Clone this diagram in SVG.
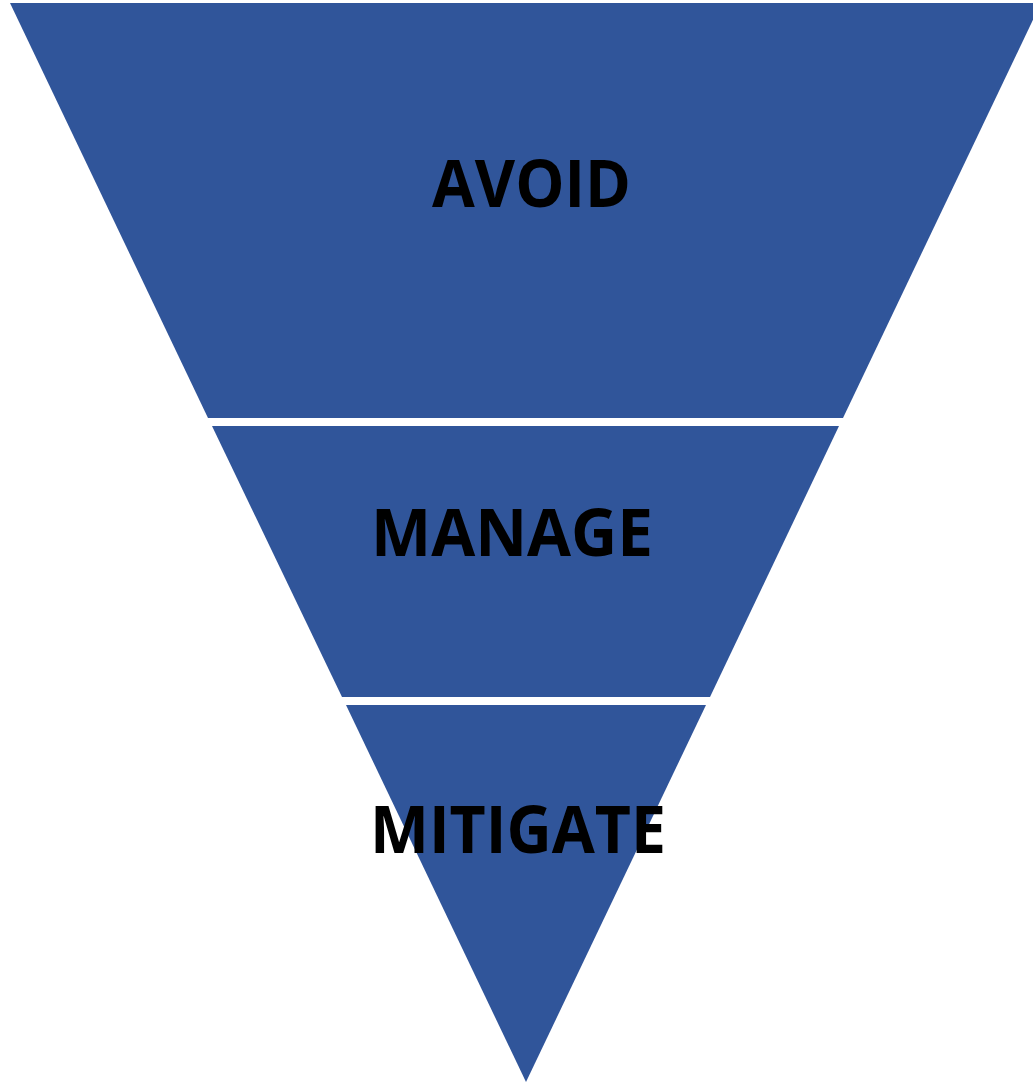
<svg xmlns="http://www.w3.org/2000/svg" width="1033" height="1084" viewBox="0 0 1033 1084">
<style>
.band{fill:#30559A;}
.lbl{font-family:"Open Sans","Liberation Sans",sans-serif;font-weight:bold;font-size:67px;fill:#000;}
</style>
<rect width="1033" height="1084" fill="#fff"/>
<g id="avoid">
<polygon class="band" points="10,3 1041,3 843,418 208,418"/>
<text class="lbl" x="432" y="207" textLength="199" lengthAdjust="spacingAndGlyphs">AVOID</text>
</g>
<g id="manage">
<polygon class="band" points="212,426 839,426 710,697 342,697"/>
<text class="lbl" x="371" y="556" textLength="282" lengthAdjust="spacingAndGlyphs">MANAGE</text>
</g>
<g id="mitigate">
<polygon class="band" points="346,705 706,705 526,1082"/>
<text class="lbl" x="370" y="853" textLength="296" lengthAdjust="spacingAndGlyphs">MITIGATE</text>
</g>
<g id="connectors"></g>
</svg>
